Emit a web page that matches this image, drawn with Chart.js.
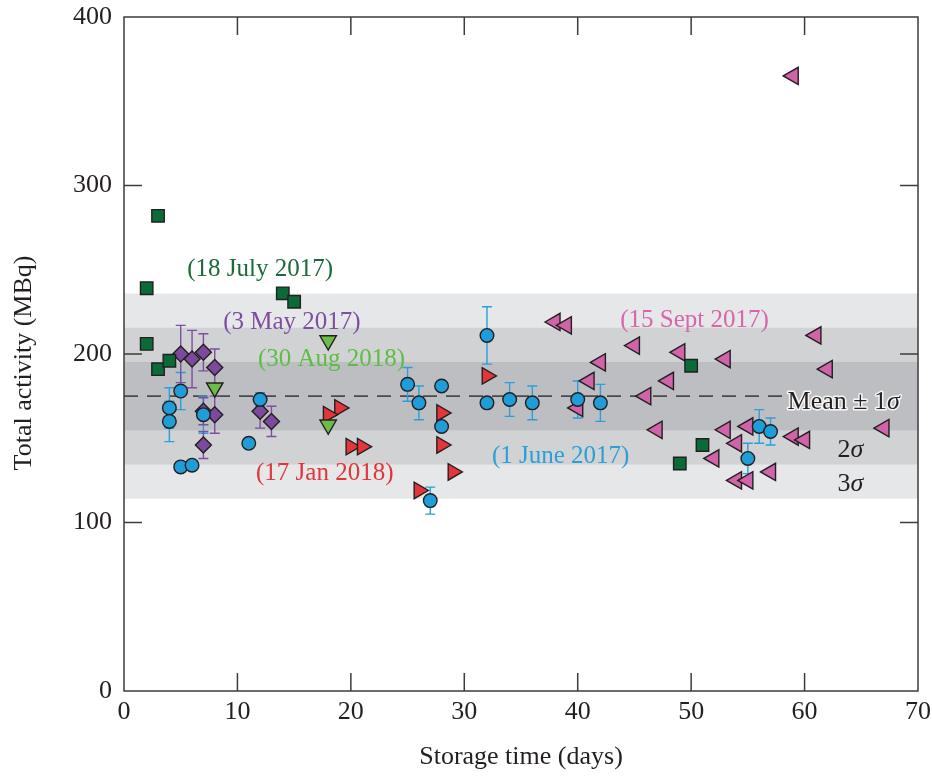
<!DOCTYPE html>
<html>
<head>
<meta charset="utf-8">
<title>Total activity vs storage time</title>
<script src="https://cdn.jsdelivr.net/npm/chart.js@4.4.1/dist/chart.umd.min.js"></script>
<style>
    html, body { margin: 0; padding: 0; background: #fff; }
    #activityChart { display: block; }
</style>
</head>
<body>
<canvas id="activityChart" width="932" height="777"></canvas>
<script>
// Axis ticks
const xTicks = [0, 10, 20, 30, 40, 50, 60, 70];
const yTicks = [0, 100, 200, 300, 400];

// Mean and spread of all samples (grey bands)
const meanActivity = 175;
const sigmaActivity = 20.3;

// (18 July 2017) - dark green squares
const julyDays = [2, 2, 3, 3, 4, 14, 15, 49, 50, 51];
const julyActivity = [239, 206, 282, 191, 196, 236, 231, 135, 193, 146];

// (3 May 2017) - purple diamonds with error bars
const mayDays = [5, 6, 7, 8, 7, 8, 7, 12, 13];
const mayActivity = [200, 197, 201, 192, 166, 164, 146, 166, 160];
const mayError = [17, 17, 11, 11, 8, 11, 8, 10, 9];

// (30 Aug 2018) - light green down triangles
const augDays = [8, 18, 18];
const augActivity = [180, 208, 158];

// (17 Jan 2018) - red right triangles
const janDays = [19, 18, 20, 21, 32, 28, 28, 29, 26];
const janActivity = [168, 164, 145, 145, 187, 165, 146, 130, 119];

// (1 June 2017) - blue circles with error bars
const juneDays = [4, 4, 5, 7, 5, 6, 11, 12, 25, 26, 28, 28, 27, 32, 32, 34, 36, 40, 42, 56, 57, 55];
const juneActivity = [168, 160, 178, 164, 133, 134, 147, 173, 182, 171, 181, 157, 113, 211, 171, 173, 171, 173, 171, 157, 154, 138];
const juneError = [12, 12, 11, 11, 0, 0, 0, 4, 10, 10, 0, 2, 8, 17, 3, 10, 10, 11, 11, 10, 8, 9];

// (15 Sept 2017) - pink left triangles
const septDays = [59, 38, 39, 40, 45, 42, 41, 49, 53, 48, 46, 47, 53, 54, 52, 55, 54, 55, 61, 62, 67, 59, 60, 57];
const septActivity = [365, 219, 217, 168, 205, 195, 184, 201, 197, 184, 175, 155, 155, 147, 138, 157, 125, 125, 211, 191, 156, 151, 149, 130];

const serif = '"Liberation Serif", "DejaVu Serif", serif';
const inkColor = '#231f20';

function toPoints(days, values, errors) {
    return days.map((d, i) => {
        const p = { x: d, y: values[i] };
        if (errors) p.err = errors[i];
        return p;
    });
}

function markerSet(label, days, values, opts, errors) {
    return Object.assign({
        label: label,
        data: toPoints(days, values, errors),
        borderColor: inkColor,
        borderWidth: 1.4,
        showLine: false
    }, opts);
}

// Grey bands, dashed mean line and error bars drawn under the markers
const backdropPlugin = {
    id: 'backdrop',
    beforeDatasetsDraw(chart) {
        const { ctx, chartArea, scales } = chart;
        const x = scales.x, y = scales.y;
        ctx.save();
        ctx.beginPath();
        ctx.rect(chartArea.left, chartArea.top, chartArea.right - chartArea.left, chartArea.bottom - chartArea.top);
        ctx.clip();

        const bandColors = ['#e6e7e8', '#d1d2d4', '#bdbec1'];
        [3, 2, 1].forEach((k, i) => {
            const top = y.getPixelForValue(meanActivity + k * sigmaActivity);
            const bottom = y.getPixelForValue(meanActivity - k * sigmaActivity);
            ctx.fillStyle = bandColors[i];
            ctx.fillRect(chartArea.left, top, chartArea.right - chartArea.left, bottom - top);
        });

        const meanY = y.getPixelForValue(meanActivity);
        ctx.strokeStyle = '#4a4a4a';
        ctx.lineWidth = 1.8;
        ctx.setLineDash([14, 9]);
        ctx.beginPath();
        ctx.moveTo(chartArea.left, meanY);
        ctx.lineTo(x.getPixelForValue(58.2), meanY);
        ctx.stroke();
        ctx.setLineDash([]);

        // error bars
        chart.data.datasets.forEach(ds => {
            if (!ds.errorColor) return;
            ctx.strokeStyle = ds.errorColor;
            ctx.lineWidth = 1.4;
            ds.data.forEach(p => {
                if (!p.err) return;
                const px = x.getPixelForValue(p.x);
                const top = y.getPixelForValue(p.y + p.err);
                const bottom = y.getPixelForValue(p.y - p.err);
                ctx.beginPath();
                ctx.moveTo(px, top);
                ctx.lineTo(px, bottom);
                ctx.moveTo(px - 5, top);
                ctx.lineTo(px + 5, top);
                ctx.moveTo(px - 5, bottom);
                ctx.lineTo(px + 5, bottom);
                ctx.stroke();
            });
        });
        ctx.restore();
    }
};

// Frame, inward ticks, tick labels, axis titles and the date labels
const framePlugin = {
    id: 'frame',
    afterDraw(chart) {
        const { ctx, chartArea, scales } = chart;
        const x = scales.x, y = scales.y;
        const { left, right, top, bottom } = chartArea;
        const tickLen = 18;
        ctx.save();

        ctx.strokeStyle = '#3c3c3c';
        ctx.lineWidth = 1.5;
        ctx.strokeRect(left, top, right - left, bottom - top);

        ctx.beginPath();
        xTicks.slice(1, -1).forEach(v => {
            const px = x.getPixelForValue(v);
            ctx.moveTo(px, bottom);
            ctx.lineTo(px, bottom - tickLen);
            ctx.moveTo(px, top);
            ctx.lineTo(px, top + tickLen);
        });
        yTicks.slice(1, -1).forEach(v => {
            const py = y.getPixelForValue(v);
            ctx.moveTo(left, py);
            ctx.lineTo(left + tickLen, py);
            ctx.moveTo(right, py);
            ctx.lineTo(right - tickLen, py);
        });
        ctx.stroke();

        // tick labels
        ctx.fillStyle = inkColor;
        ctx.font = '26px ' + serif;
        ctx.textBaseline = 'middle';
        ctx.textAlign = 'center';
        xTicks.forEach(v => ctx.fillText(String(v), x.getPixelForValue(v), bottom + 21));
        ctx.textAlign = 'right';
        yTicks.forEach(v => ctx.fillText(String(v), left - 12, y.getPixelForValue(v)));

        // axis titles
        ctx.textAlign = 'center';
        ctx.fillText('Storage time (days)', (left + right) / 2, 757);
        ctx.save();
        ctx.translate(24, 363);
        ctx.rotate(-Math.PI / 2);
        ctx.fillText('Total activity (MBq)', 0, 0);
        ctx.restore();

        // series labels
        const labels = [
            ['(18 July 2017)', 12.0, 250, '#1a6b3a'],
            ['(3 May 2017)', 14.8, 219, '#7d4f9e'],
            ['(30 Aug 2018)', 18.3, 197, '#5dbe45'],
            ['(17 Jan 2018)', 17.7, 129, '#e3343a'],
            ['(1 June 2017)', 38.5, 139, '#2a9fd8'],
            ['(15 Sept 2017)', 50.3, 220, '#d567aa']
        ];
        ctx.font = '25px ' + serif;
        labels.forEach(([text, lx, ly, color]) => {
            ctx.fillStyle = color;
            ctx.fillText(text, x.getPixelForValue(lx), y.getPixelForValue(ly));
        });

        // band labels
        ctx.textAlign = 'left';
        ctx.lineJoin = 'round';
        const meanX = x.getPixelForValue(58.5);
        const meanY = y.getPixelForValue(171.5);
        const meanText = 'Mean \u00b1 1';
        ctx.font = '26px ' + serif;
        ctx.lineWidth = 3;
        ctx.strokeStyle = 'rgba(255,255,255,0.85)';
        ctx.strokeText(meanText, meanX, meanY);
        ctx.fillStyle = inkColor;
        ctx.fillText(meanText, meanX, meanY);
        const sigX = meanX + ctx.measureText(meanText).width;
        ctx.font = 'italic 26px ' + serif;
        ctx.strokeText('\u03c3', sigX, meanY);
        ctx.fillText('\u03c3', sigX, meanY);

        [['2', 143], ['3', 122.5]].forEach(([n, v]) => {
            const bx = x.getPixelForValue(62.9);
            const by = y.getPixelForValue(v);
            ctx.font = '26px ' + serif;
            ctx.fillText(n, bx, by);
            const w = ctx.measureText(n).width;
            ctx.font = 'italic 26px ' + serif;
            ctx.fillText('\u03c3', bx + w, by);
        });

        ctx.restore();
    }
};

const datasets = [
    markerSet('18 July 2017', julyDays, julyActivity, {
        backgroundColor: '#0b6b38', pointStyle: 'rect', pointRadius: 8.8
    }),
    markerSet('1 June 2017', juneDays, juneActivity, {
        backgroundColor: '#1f9dd9', pointStyle: 'circle', pointRadius: 6.8, errorColor: '#2a9fd8'
    }, juneError),
    markerSet('30 Aug 2018', augDays, augActivity, {
        backgroundColor: '#6cbd45', pointStyle: 'triangle', rotation: 180, pointRadius: 9.5
    }),
    markerSet('17 Jan 2018', janDays, janActivity, {
        backgroundColor: '#e4353b', pointStyle: 'triangle', rotation: 90, pointRadius: 9.5
    }),
    markerSet('3 May 2017', mayDays, mayActivity, {
        backgroundColor: '#7b4a9c', pointStyle: 'rectRot', pointRadius: 8, errorColor: '#7d4f9e'
    }, mayError),
    markerSet('15 Sept 2017', septDays, septActivity, {
        backgroundColor: '#d163a8', pointStyle: 'triangle', rotation: -90, pointRadius: 10
    })
];

try {
    new Chart(document.getElementById('activityChart').getContext('2d'), {
        type: 'scatter',
        data: { datasets: datasets },
        options: {
            responsive: false,
            animation: false,
            devicePixelRatio: 1,
            layout: { padding: { top: 17, right: 14, left: 0, bottom: 0 } },
            plugins: {
                legend: { display: false },
                tooltip: { enabled: false }
            },
            elements: { point: { hoverRadius: 0 } },
            scales: {
                x: {
                    type: 'linear',
                    min: 0,
                    max: 70,
                    grid: { display: false, drawTicks: false },
                    border: { display: false },
                    ticks: { display: false, stepSize: 10 },
                    afterFit: scale => { scale.height = 86; }
                },
                y: {
                    type: 'linear',
                    min: 0,
                    max: 400,
                    grid: { display: false, drawTicks: false },
                    border: { display: false },
                    ticks: { display: false, stepSize: 100 },
                    afterFit: scale => { scale.width = 124; }
                }
            }
        },
        plugins: [backdropPlugin, framePlugin]
    });
} catch (error) {
    console.error('Error drawing chart:', error);
}
</script>
</body>
</html>
